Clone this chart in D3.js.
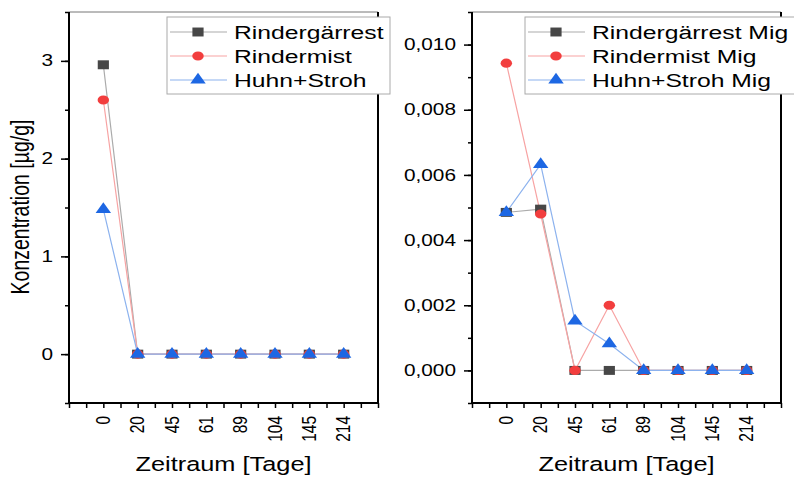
<!DOCTYPE html>
<html>
<head>
<meta charset="utf-8">
<script src="https://cdn.jsdelivr.net/npm/d3@7"></script>
<style>
  body { margin: 0; background: #fff; }
  svg { display: block; font-family: "Liberation Sans", Arial, sans-serif; }
</style>
</head>
<body>
<div id="chart"></div>
<script>
// categories (Zeitraum in Tagen)
const days = ["0", "20", "45", "61", "89", "104", "145", "214"];

// left panel: Konzentration [µg/g]
const rindergaerrest = [2.96, 0, 0, 0, 0, 0, 0, 0];
const rindermist = [2.60, 0, 0, 0, 0, 0, 0, 0];
const huhnStroh = [1.48, 0, 0, 0, 0, 0, 0, 0];

// right panel: migration
const rindergaerrestMig = [0.00485, 0.00495, 0, 0, 0, 0, 0, 0];
const rindermistMig = [0.00943, 0.00480, 0, 0.00200, 0, 0, 0, 0];
const huhnStrohMig = [0.00485, 0.00632, 0.00152, 0.00082, 0, 0, 0, 0];

const leftTicks = [0, 1, 2, 3];
const rightTicks = [0, 0.002, 0.004, 0.006, 0.008, 0.010];

const W = 794, H = 478;
const SX = 1.3; // reference is stretched horizontally

const svg = d3.select("#chart").append("svg")
    .attr("width", W)
    .attr("height", H);

const styles = [
    { symbol: d3.symbolSquare, size: 80, fill: "#474747", line: "#ababab" },
    { symbol: d3.symbolCircle, size: 66, fill: "#f23e3e", line: "#f7a3a3" },
    { symbol: d3.symbolTriangle, size: 66, fill: "#1d67e3", line: "#8cb2ee" }
];

function stretchedText(g, x, y, str, size, rotate) {
    return g.append("text")
        .attr("transform", `translate(${x},${y}) scale(${SX},1)` + (rotate ? " rotate(-90)" : ""))
        .style("font-size", size + "px")
        .attr("fill", "#000")
        .text(str);
}

function drawPanel(opt) {
    const { left, right, top, bottom, yDomain, yMajor, yMinorStep, fmt, series, names, legend } = opt;
    const g = svg.append("g");

    const x = d3.scaleLinear().domain([-1, 8]).range([left, right]);
    const y = d3.scaleLinear().domain(yDomain).range([bottom, top]);

    // top frame line (thin)
    g.append("line")
        .attr("x1", left).attr("x2", right)
        .attr("y1", top).attr("y2", top)
        .attr("stroke", "#777").attr("stroke-width", 1);

    // right frame line
    g.append("line")
        .attr("x1", right).attr("x2", right)
        .attr("y1", top).attr("y2", bottom)
        .attr("stroke", "#000").attr("stroke-width", 2);

    // y axis with major + minor ticks
    const yMinor = d3.range(yDomain[0], yDomain[1] + yMinorStep / 2, yMinorStep);
    g.append("g")
        .attr("transform", `translate(${left},0)`)
        .call(d3.axisLeft(y).tickValues(yMinor).tickSize(4).tickFormat(""))
        .call(a => a.select(".domain").remove())
        .selectAll("line").attr("stroke", "#000").attr("stroke-width", 1.5);
    const yAx = g.append("g")
        .attr("transform", `translate(${left},0)`)
        .call(d3.axisLeft(y).tickValues(yMajor).tickSize(8).tickFormat(""));
    yAx.select(".domain").remove();
    yAx.selectAll("line").attr("stroke", "#000").attr("stroke-width", 1.5);
    yMajor.forEach(v => {
        stretchedText(g, left - 16, y(v), fmt(v), 16)
            .attr("text-anchor", "end")
            .attr("dominant-baseline", "central");
    });
    g.append("line")
        .attr("x1", left).attr("x2", left)
        .attr("y1", top).attr("y2", bottom + 1)
        .attr("stroke", "#000").attr("stroke-width", 2);

    // x axis: ticks at each category and half steps
    const xMinor = d3.range(-1, 8.01, 0.5);
    const xAx = g.append("g")
        .attr("transform", `translate(0,${bottom})`)
        .call(d3.axisBottom(x).tickValues(xMinor).tickSize(5).tickFormat(""));
    xAx.select(".domain").remove();
    xAx.selectAll("line").attr("stroke", "#000").attr("stroke-width", 1.5);
    g.append("line")
        .attr("x1", left - 1).attr("x2", right + 1)
        .attr("y1", bottom).attr("y2", bottom)
        .attr("stroke", "#000").attr("stroke-width", 2);
    days.forEach((d, i) => {
        stretchedText(g, x(i), bottom + 13, d, 15.5, true)
            .attr("text-anchor", "end")
            .attr("dominant-baseline", "central");
    });

    // axis title
    stretchedText(g, (left + right) / 2, 471, "Zeitraum [Tage]", 19.5)
        .attr("text-anchor", "middle");

    // series lines and markers
    series.forEach((vals, k) => {
        const st = styles[k];
        const line = d3.line().x((d, i) => x(i)).y(d => y(d));
        g.append("path")
            .datum(vals)
            .attr("fill", "none")
            .attr("stroke", st.line)
            .attr("stroke-width", 1.2)
            .attr("d", line);
    });
    series.forEach((vals, k) => {
        const st = styles[k];
        g.selectAll(null)
            .data(vals)
            .enter()
            .append("path")
            .attr("d", d3.symbol().type(st.symbol).size(st.size))
            .attr("transform", (d, i) => `translate(${x(i)},${y(d)}) scale(1.25,1)`)
            .attr("fill", st.fill);
    });

    // legend
    const lg = g.append("g");
    lg.append("rect")
        .attr("x", legend.x).attr("y", legend.y)
        .attr("width", legend.w).attr("height", legend.h)
        .attr("fill", "#fff")
        .attr("stroke", "#aaa").attr("stroke-width", 1);
    names.forEach((name, k) => {
        const st = styles[k];
        const cy = legend.y + 15 + k * 24;
        lg.append("line")
            .attr("x1", legend.x + 3).attr("x2", legend.x + 60)
            .attr("y1", cy).attr("y2", cy)
            .attr("stroke", st.line).attr("stroke-width", 1.2);
        lg.append("path")
            .attr("d", d3.symbol().type(st.symbol).size(st.size))
            .attr("transform", `translate(${legend.x + 31},${cy}) scale(1.25,1)`)
            .attr("fill", st.fill);
        stretchedText(lg, legend.x + 67, cy + 7, name, 19);
    });
}

const fmtInt = d3.format("d");
const fmtComma = v => d3.format(".3f")(v).replace(".", ",");

drawPanel({
    left: 69, right: 378, top: 12, bottom: 403,
    yDomain: [-0.5, 3.5], yMajor: leftTicks, yMinorStep: 0.5, fmt: fmtInt,
    series: [rindergaerrest, rindermist, huhnStroh],
    names: ["Rindergärrest", "Rindermist", "Huhn+Stroh"],
    legend: { x: 167, y: 17, w: 223, h: 77 }
});

drawPanel({
    left: 472, right: 781, top: 12, bottom: 403,
    yDomain: [-0.001, 0.011], yMajor: rightTicks, yMinorStep: 0.001, fmt: fmtComma,
    series: [rindergaerrestMig, rindermistMig, huhnStrohMig],
    names: ["Rindergärrest Mig", "Rindermist Mig", "Huhn+Stroh Mig"],
    legend: { x: 525, y: 17, w: 300, h: 77 }
});

// y axis title (left panel)
stretchedText(svg, 21, 207, "Konzentration [µg/g]", 19.5, true)
    .attr("text-anchor", "middle")
    .attr("dominant-baseline", "central");
</script>
</body>
</html>
